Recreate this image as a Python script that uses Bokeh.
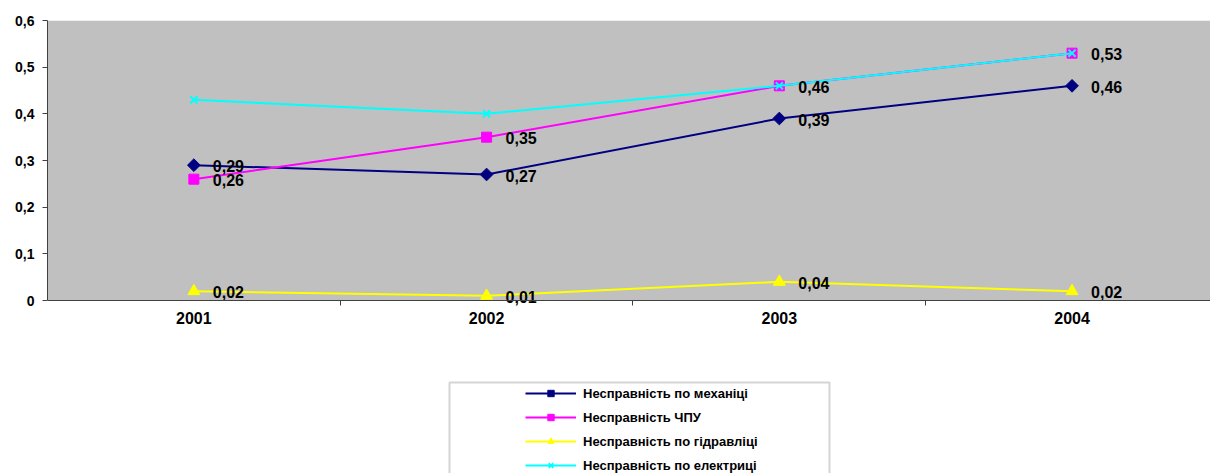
import math
from bokeh.plotting import figure
from bokeh.models import (Range1d, FixedTicker, Legend, LegendItem, BoxAnnotation,
                          ColumnDataSource, CustomJSTickFormatter)
from bokeh.core.properties import value
from bokeh.embed import file_html
from bokeh.resources import INLINE

# Fault statistics by year
years = ["2001", "2002", "2003", "2004"]
mechanics = [0.29, 0.27, 0.39, 0.46]
cnc = [0.26, 0.35, 0.46, 0.53]
hydraulics = [0.02, 0.01, 0.04, 0.02]
electrics = [0.43, 0.40, 0.46, 0.53]
y_ticks = [0, 0.1, 0.2, 0.3, 0.4, 0.5, 0.6]

names = ["Несправність по механіці", "Несправність ЧПУ",
         "Несправність по гідравліці", "Несправність по електриці"]
colors = ["#000080", "#FF00FF", "#FFFF00", "#00FFFF"]
# the diamond is a square turned by 45 degrees
markers = ["square", "square", "triangle", "x"]
angles = [math.pi / 4, 0, 0, 0]
sizes = [9, 10, 12, 10]
series = [mechanics, cnc, hydraulics, electrics]
labelled = [True, True, True, False]

xs = list(range(len(years)))
FONT = "Liberation Sans"

W, H = 1210, 473
TOP, ZERO_PX = 20, 300          # pixel rows of 0.6 and 0
y_max = 0.6
# extend the y range below zero so the legend area stays inside the frame
y_min = -(H - ZERO_PX) / (ZERO_PX - TOP) * y_max

p = figure(width=W, height=H, output_backend="svg", toolbar_location=None,
           x_range=Range1d(-0.5, 3.473), y_range=Range1d(y_min, y_max),
           min_border_left=47, min_border_right=0, min_border_top=TOP,
           min_border_bottom=0)
p.background_fill_color = "white"
p.border_fill_color = "white"
p.outline_line_color = None

# grey plot area between 0 and 0.6
p.add_layout(BoxAnnotation(bottom=0, top=y_max, fill_color="#C0C0C0", fill_alpha=1,
                           line_color=None, level="underlay"))

# y axis
p.yaxis.ticker = FixedTicker(ticks=y_ticks)
p.yaxis.bounds = (0, y_max)
p.yaxis.formatter = CustomJSTickFormatter(
    code="return tick == 0 ? '0' : tick.toFixed(1).replace('.', ',');")
p.yaxis.major_tick_out = 5
p.yaxis.major_tick_in = 0
p.yaxis.minor_tick_out = 0
p.yaxis.minor_tick_in = 0
p.yaxis.major_label_standoff = 8
p.yaxis.axis_line_color = "#404040"
p.yaxis.major_tick_line_color = "#404040"
p.yaxis.major_label_text_font = FONT
p.yaxis.major_label_text_font_style = "bold"
p.yaxis.major_label_text_font_size = "14px"
p.yaxis.major_label_text_color = "black"

# x axis sits on zero: labels at category centres, ticks between categories
p.xaxis.fixed_location = 0
p.xaxis.ticker = FixedTicker(ticks=xs, minor_ticks=[0.5, 1.5, 2.5])
p.xaxis.major_label_overrides = {i: y for i, y in enumerate(years)}
p.xaxis.major_tick_out = 0
p.xaxis.major_tick_in = 0
p.xaxis.minor_tick_out = 5
p.xaxis.minor_tick_in = 0
p.xaxis.minor_tick_line_color = "#404040"
p.xaxis.axis_line_color = "#404040"
p.xaxis.major_label_standoff = 6
p.xaxis.major_label_text_font = FONT
p.xaxis.major_label_text_font_style = "bold"
p.xaxis.major_label_text_font_size = "16px"
p.xaxis.major_label_text_color = "black"

p.xgrid.visible = False
p.ygrid.ticker = FixedTicker(ticks=y_ticks[1:])
p.ygrid.grid_line_color = "black"
p.ygrid.grid_line_width = 1

items = []
for name, col, mk, ang, sz, vals in zip(names, colors, markers, angles, sizes, series):
    src = ColumnDataSource(dict(x=xs, y=vals))
    lr = p.line("x", "y", source=src, line_color=col, line_width=2)
    sr = p.scatter("x", "y", source=src, marker=mk, size=sz, angle=ang,
                   fill_color=col, line_color=col, line_width=2 if mk == "x" else 1)
    items.append(LegendItem(label=name, renderers=[lr, sr]))

for vals, lab in zip(series, labelled):
    if not lab:
        continue
    src = ColumnDataSource(dict(x=xs, y=vals,
                                t=[f"{v:.2f}".replace(".", ",") for v in vals]))
    p.text("x", "y", text="t", source=src, x_offset=19, y_offset=1,
           text_align="left", text_baseline="middle",
           text_font=value(FONT), text_font_style="bold",
           text_font_size="16px", text_color="black")

# legend frame (screen units measured from the frame's bottom-left corner)
legend_box = BoxAnnotation(left=402, right=782, top=91, bottom=-10,
                           left_units="screen", right_units="screen",
                           top_units="screen", bottom_units="screen",
                           fill_color="white", fill_alpha=1,
                           line_color="#707070", line_width=2)
p.add_layout(legend_box)

legend = Legend(items=items, location=(478, 0), padding=5, spacing=8,
                glyph_width=51, glyph_height=16, label_height=16,
                label_standoff=7, border_line_color=None,
                background_fill_alpha=0,
                label_text_font=FONT, label_text_font_style="bold",
                label_text_font_size="13px", label_text_color="black")
p.add_layout(legend)

open("out.html", "w").write(file_html(p, INLINE))
